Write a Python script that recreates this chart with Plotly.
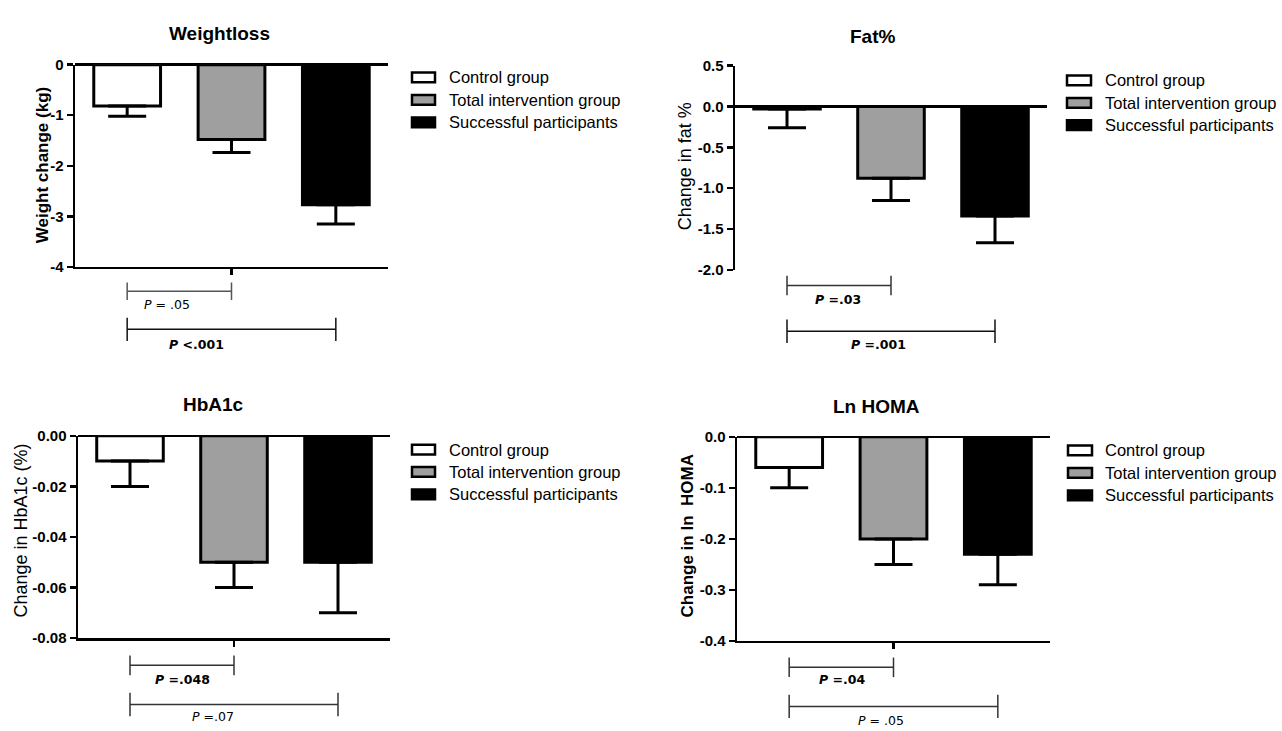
import plotly.graph_objects as go

# ---------------- data ----------------
groups = ["Control group", "Total intervention group", "Successful participants"]

panel_titles = ["Weightloss", "Fat%", "HbA1c", "Ln HOMA"]
axis_titles = ["Weight change (kg)", "Change in fat %", "Change in HbA1c (%)", "Change in ln\u00a0 HOMA"]

weight_mean = [-0.82, -1.48, -2.77]
weight_sem = [0.20, 0.26, 0.38]

fat_mean = [-0.03, -0.88, -1.34]
fat_sem = [0.23, 0.27, 0.33]

hba1c_mean = [-0.01, -0.05, -0.05]
hba1c_sem = [0.01, 0.01, 0.02]

homa_mean = [-0.06, -0.20, -0.23]
homa_sem = [0.04, 0.05, 0.06]

weight_ticks = [0, -1, -2, -3, -4]
weight_ticktext = ["0", "-1", "-2", "-3", "-4"]
fat_ticks = [0.5, 0.0, -0.5, -1.0, -1.5, -2.0]
fat_ticktext = ["0.5", "0.0", "-0.5", "-1.0", "-1.5", "-2.0"]
hba1c_ticks = [0.0, -0.02, -0.04, -0.06, -0.08]
hba1c_ticktext = ["0.00", "-0.02", "-0.04", "-0.06", "-0.08"]
homa_ticks = [0.0, -0.1, -0.2, -0.3, -0.4]
homa_ticktext = ["0.0", "-0.1", "-0.2", "-0.3", "-0.4"]

# comparisons: (from group, to group, p-value label)
weight_p = [(0, 1, "P = .05"), (0, 2, "P <.001")]
fat_p = [(0, 1, "P =.03"), (0, 2, "P =.001")]
hba1c_p = [(0, 1, "P =.048"), (0, 2, "P =.07")]
homa_p = [(0, 1, "P =.04"), (0, 2, "P = .05")]

# ---------------- style / layout ----------------
W, H = 1282, 731
bar_colors = ["#ffffff", "#9f9f9f", "#000000"]
FONT = "Liberation Sans, Arial, sans-serif"
PFONT = "DejaVu Sans, Verdana, sans-serif"


def fx(px):
    return px / W


def fy(py):
    return 1 - py / H


panels = [
    dict(mean=weight_mean, sem=weight_sem, ticks=weight_ticks, ticktext=weight_ticktext,
         rng=[-4, 0], comps=weight_p, box=(75, 388, 57, 264), bottom_axis=True,
         title_xy=(219, 25), ytitle_xy=(42, 160), ytitle_bold=True,
         legend=dict(bx=(412, 435), tx=447, rows=(70, 93, 116)),
         brackets=[dict(y=289, half=9, ty=303, tfrac=0.385, bold=False, color="#555555"),
                   dict(y=328, half=12, ty=343, tfrac=0.33, bold=True, color="#111111")]),
    dict(mean=fat_mean, sem=fat_sem, ticks=fat_ticks, ticktext=fat_ticktext,
         rng=[-2, 0.5], comps=fat_p, box=(735, 1047, 58, 267), bottom_axis=False,
         title_xy=(873, 28), ytitle_xy=(685, 161), ytitle_bold=False,
         legend=dict(bx=(1067, 1091), tx=1103, rows=(73, 96, 119)),
         brackets=[dict(y=283, half=10, ty=297, tfrac=0.49, bold=True, color="#333333"),
                   dict(y=330, half=12, ty=343, tfrac=0.44, bold=True, color="#111111")]),
    dict(mean=hba1c_mean, sem=hba1c_sem, ticks=hba1c_ticks, ticktext=hba1c_ticktext,
         rng=[-0.08, 0], comps=hba1c_p, box=(78, 390, 437, 644), bottom_axis=True,
         title_xy=(213, 405), ytitle_xy=(21, 534), ytitle_bold=False,
         legend=dict(bx=(412, 435), tx=447, rows=(451, 474, 497)),
         brackets=[dict(y=672, half=10, ty=686, tfrac=0.5, bold=True, color="#333333"),
                   dict(y=712, half=12, ty=724, tfrac=0.4, bold=False, color="#333333")]),
    dict(mean=homa_mean, sem=homa_sem, ticks=homa_ticks, ticktext=homa_ticktext,
         rng=[-0.4, 0], comps=homa_p, box=(737, 1050, 438, 647), bottom_axis=True,
         title_xy=(876, 407), ytitle_xy=(687, 540), ytitle_bold=True,
         legend=dict(bx=(1068, 1092), tx=1103, rows=(452, 475, 498)),
         brackets=[dict(y=674, half=10, ty=686, tfrac=0.51, bold=True, color="#333333"),
                   dict(y=714, half=12, ty=728, tfrac=0.44, bold=False, color="#333333")]),
]

fig = go.Figure()
layout = dict(width=W, height=H, margin=dict(l=0, r=0, t=0, b=0),
              plot_bgcolor="white", paper_bgcolor="white", showlegend=False,
              bargap=0.34)
shapes = []
annotations = []

for k, p in enumerate(panels):
    n = "" if k == 0 else str(k + 1)
    xa, ya = "x" + n, "y" + n
    x0, x1, y0, y1 = p["box"]
    fig.add_trace(go.Bar(
        x=list(range(len(groups))), y=p["mean"], xaxis=xa, yaxis=ya,
        width=0.64,
        marker=dict(color=bar_colors, line=dict(color="black", width=3)),
        error_y=dict(type="data", symmetric=False, array=[0] * len(groups),
                     arrayminus=p["sem"], color="black", thickness=3, width=19),
        hoverinfo="skip"))
    layout["xaxis" + n] = dict(
        domain=[fx(x0), fx(x1)], anchor=ya, range=[-0.5, 2.5],
        showgrid=False, zeroline=False,
        showline=p["bottom_axis"], linecolor="black", linewidth=2.5,
        tickvals=[1] if p["bottom_axis"] else [], ticktext=[""],
        ticks="outside" if p["bottom_axis"] else "", ticklen=6, tickwidth=2.5,
        tickcolor="black", fixedrange=True)
    layout["yaxis" + n] = dict(
        domain=[fy(y1), fy(y0)], anchor=xa, range=p["rng"],
        showgrid=False, zeroline=True, zerolinecolor="black", zerolinewidth=2.5,
        showline=True, linecolor="black", linewidth=2.5,
        tickvals=p["ticks"], ticktext=p["ticktext"], ticks="outside",
        ticklen=6, tickwidth=2.5, tickcolor="black",
        tickfont=dict(family=FONT, size=15, color="black", weight="bold"),
        fixedrange=True)

    # panel title
    tx, ty = p["title_xy"]
    annotations.append(dict(text="<b>" + panel_titles[k] + "</b>", x=fx(tx), y=fy(ty),
                            xref="paper", yref="paper", xanchor="center", yanchor="middle",
                            showarrow=False, font=dict(family=FONT, size=19, color="black")))
    # y-axis title
    atx, aty = p["ytitle_xy"]
    txt = axis_titles[k]
    if p["ytitle_bold"]:
        txt = "<b>" + txt + "</b>"
    annotations.append(dict(text=txt, x=fx(atx), y=fy(aty), xref="paper", yref="paper",
                            xanchor="center", yanchor="middle", textangle=-90, showarrow=False,
                            font=dict(family=FONT, size=17 if p["ytitle_bold"] else 18,
                                      color="black")))
    # legend (manual)
    lg = p["legend"]
    for gi, g in enumerate(groups):
        ry = lg["rows"][gi]
        shapes.append(dict(type="rect", xref="paper", yref="paper",
                           x0=fx(lg["bx"][0]), x1=fx(lg["bx"][1]),
                           y0=fy(ry + 5), y1=fy(ry - 5),
                           fillcolor=bar_colors[gi], line=dict(color="black", width=2.5)))
        annotations.append(dict(text=g, x=fx(lg["tx"]), y=fy(ry), xref="paper", yref="paper",
                                xanchor="left", yanchor="middle", showarrow=False,
                                font=dict(family=FONT, size=16.5, color="black")))
    # significance brackets
    for (a, b, label), br in zip(p["comps"], p["brackets"]):
        col = br["color"]
        shapes.append(dict(type="line", xref=xa, yref="paper", x0=a, x1=b,
                           y0=fy(br["y"]), y1=fy(br["y"]), line=dict(color=col, width=1.5)))
        for end in (a, b):
            shapes.append(dict(type="line", xref=xa, yref="paper", x0=end, x1=end,
                               y0=fy(br["y"] - br["half"]), y1=fy(br["y"] + br["half"]),
                               line=dict(color=col, width=1.5)))
        ltxt = "<i>P</i>" + label[1:]
        if br["bold"]:
            ltxt = "<b>" + ltxt + "</b>"
        annotations.append(dict(text=ltxt, x=a + br["tfrac"] * (b - a), y=fy(br["ty"]),
                                xref=xa, yref="paper", xanchor="center", yanchor="middle",
                                showarrow=False,
                                font=dict(family=PFONT, size=12.5, color="black")))

layout["shapes"] = shapes
layout["annotations"] = annotations
fig.update_layout(**layout)
fig.write_html(
    "out.html",
    config={"displayModeBar": False, "staticPlot": True},
    post_script=(
        "var s=document.documentElement.style;s.margin='0';s.padding='0';"
        "s.overflow='hidden';s.height='731px';"
        "var b=document.body.style;b.margin='0';b.padding='0';"
        "b.overflow='hidden';b.height='731px';"
    ),
)
